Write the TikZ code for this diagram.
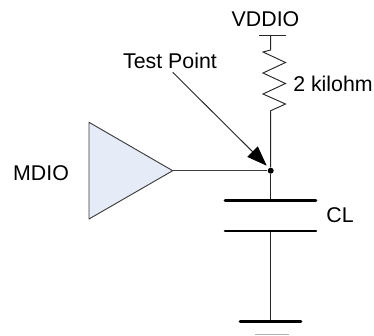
\documentclass[tikz,border=0pt]{standalone}
\usepackage{fontspec}
\setmainfont{Liberation Sans}
\usetikzlibrary{arrows.meta}
\definecolor{bufferblue}{RGB}{230,236,247}
\definecolor{wiregray}{RGB}{60,60,60}
\tikzset{
  lbl/.style={inner sep=0pt, font=\fontsize{16}{19}\selectfont},
  wire/.style={draw=black!85, line width=0.7pt},
  plate/.style={draw=black, line width=2pt, line cap=round},
}

\begin{document}
\begin{tikzpicture}[x=0.75pt, y=-0.75pt]
  \useasboundingbox (0, 0) rectangle (374, 335);

  \coordinate (vtop) at (270.7, 35);
  \coordinate (rtop) at (270.7, 50);
  \coordinate (rbot) at (270.7, 110.7);
  \coordinate (tip) at (172.7, 170.7);
  \coordinate (buftop) at (89, 122.3);
  \coordinate (bufbot) at (89, 219);
  \coordinate (ctop) at (270.7, 200.7);
  \coordinate (cbot) at (270.7, 231);
  \coordinate (gnd) at (270.7, 321.3);
  \coordinate (arrowstart) at (172.7, 72.3);
  \coordinate (arrowend) at (266.7, 165.7);

  \node[lbl] (vddio) at (265.5, 19.5) {VDDIO};
  \node[lbl] (rlabel) at (333, 84) {2 kilohm};
  \node[lbl] (testpoint) at (170, 60.5) {Test Point};
  \node[lbl] (mdio) at (41, 173.5) {MDIO};
  \node[lbl] (cl) at (340, 215.5) {CL};
  \node[circle, fill=black, inner sep=0pt, minimum size=4.5pt] (junction) at (270.7, 170.7) {};

  \draw[wire] (259, 35) -- (285.5, 35);
  \draw[wire] (vtop) -- (rtop) -- (263, 52) -- (285.5, 62.5) -- (263, 73) -- (285.5, 83.5) -- (263, 94) -- (285.5, 104) -- (rbot) -- (junction);
  \draw[draw=wiregray, fill=bufferblue, line width=0.7pt, line join=round] (buftop) -- (tip) -- (bufbot) -- cycle;
  \draw[draw=wiregray, line width=0.7pt] (tip) -- (junction);
  \draw[wire] (junction) -- (ctop);
  \draw[wire] (cbot) -- (gnd);
  \draw[plate] (225, 200.7) -- (316, 200.7);
  \draw[plate] (225, 231) -- (316, 231);
  \draw[plate] (240, 321.3) -- (301, 321.3);
  \draw[draw=black!30, line width=0.7pt] (255, 334.3) -- (289, 334.3);

  \draw[wire, -{Triangle[length=15pt, width=11pt, color=black]}] (arrowstart) -- (arrowend);
\end{tikzpicture}
\end{document}
